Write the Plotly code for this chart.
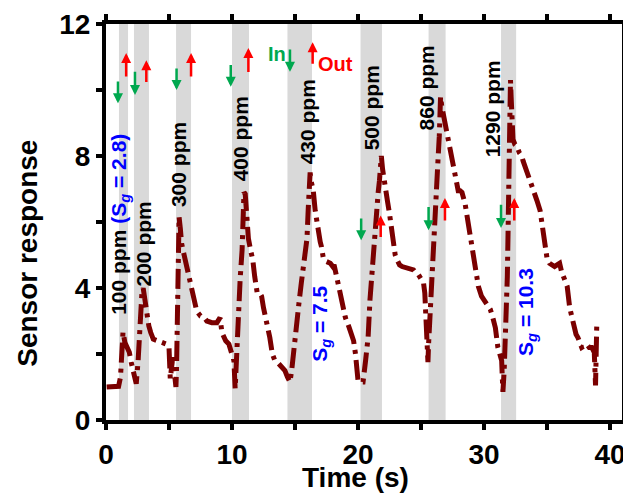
import plotly.graph_objects as go

# ---- data ----
time_s = [0.05, 0.6, 1.0, 1.15, 1.25, 1.35, 1.5, 1.65, 1.85, 2.0, 2.15, 2.3, 2.4,
          2.55, 2.65, 2.75, 2.85, 2.95, 3.1, 3.25, 3.4, 3.55, 3.75, 4.1, 4.5, 4.8, 5.0, 5.1, 5.3, 5.45, 5.55,
          5.6, 5.65, 5.7, 5.75, 5.8, 5.9, 6.0, 6.2, 6.35, 6.6, 6.8, 7.0, 7.2, 7.5, 7.8, 8.0, 8.4, 8.8, 9.05,
          9.2, 9.5, 9.75, 9.9, 10.05, 10.15, 10.25,
          10.35, 10.5, 10.65, 10.8, 10.9, 10.95, 11.05, 11.1, 11.2, 11.3, 11.5, 11.65, 11.8, 12.0, 12.2,
          12.35, 12.5, 12.75, 13.0, 13.2, 13.4, 13.6, 13.8, 14.0, 14.2, 14.4, 14.5, 14.6, 14.75,
          14.9, 15.15, 15.3, 15.5, 15.7, 15.95, 16.05, 16.1, 16.2, 16.3, 16.45, 16.6, 16.85, 17.0, 17.1,
          17.25, 17.5, 17.8, 18.0, 18.1, 18.3, 18.45, 18.6, 18.8, 19.0, 19.3, 19.5, 19.65, 19.8, 19.9,
          20.0, 20.15, 20.4,
          20.6, 20.8, 20.95, 21.1, 21.2, 21.35, 21.5, 21.6, 21.7, 21.8, 21.85, 21.95, 22.05, 22.2, 22.35,
          22.5, 22.65, 22.8, 22.95, 23.1, 23.3, 23.5, 23.9, 24.2, 24.4, 24.5, 24.8, 25.05, 25.2, 25.3,
          25.35, 25.45, 25.5, 25.55,
          25.6, 25.7, 25.85, 25.95, 26.1, 26.2, 26.35, 26.45, 26.5, 26.55, 26.65, 26.75, 26.9, 27.05,
          27.2, 27.3, 27.45, 27.55, 27.7, 27.95, 28.1, 28.25, 28.5, 28.75, 29.05, 29.3, 29.55, 29.8,
          30.1, 30.5, 30.7, 30.9, 31.1, 31.25, 31.4, 31.45, 31.5,
          31.6, 31.7, 31.8, 31.85, 31.9, 31.95, 32.0, 32.05, 32.1, 32.15, 32.2, 32.3, 32.45, 32.6, 32.8,
          33.0, 33.1, 33.25, 33.5, 33.7, 33.9, 34.2, 34.45, 34.6, 34.7, 34.85, 35.0, 35.2, 35.4, 35.6,
          35.8, 36.0, 36.15, 36.3, 36.6, 36.8, 37.1, 37.3, 37.45, 37.75, 37.95, 38.15, 38.35, 38.55,
          38.75, 38.8, 38.85, 38.9, 38.95]
response = [1.0, 1.0, 1.02, 1.3, 2.0, 2.67, 2.35, 2.2, 2.05, 1.75, 1.5, 1.25, 1.1,
            1.8, 2.6, 3.2, 3.85, 4.0, 3.6, 3.1, 2.85, 2.65, 2.45, 2.4, 2.35, 2.3, 2.2, 1.25, 1.9, 1.1, 1.0,
            1.6, 3.0, 4.5, 5.6, 6.15, 5.8, 5.35, 5.0, 4.75, 4.25, 4.05, 3.6, 3.3, 3.15, 3.1, 3.0, 2.95, 2.95, 3.1,
            2.65, 2.4, 2.3, 2.05, 1.85, 1.8, 0.95,
            2.0, 3.2, 4.3, 5.15, 6.3, 6.9, 6.85, 6.5, 6.35, 5.5, 5.1, 4.85, 4.35, 3.85, 3.85,
            3.75, 3.4, 3.0, 2.5, 2.0, 1.8, 1.75, 1.65, 1.6, 1.5, 1.3, 1.15, 1.15, 1.55,
            2.0, 2.9, 3.5, 4.15, 4.8, 5.5, 6.4, 6.9, 7.5, 7.2, 6.95, 6.35, 5.65, 5.4, 5.25,
            4.9, 4.8, 4.75, 4.65, 4.7, 4.35, 4.1, 3.85, 3.5, 3.1, 2.8, 2.6, 2.4, 2.0, 1.6,
            1.2, 1.15, 1.15,
            1.8, 2.5, 3.65, 4.5, 5.15, 5.8, 6.45, 6.9, 7.25, 7.9, 8.0, 7.6, 7.4, 7.0, 6.6,
            6.25, 5.8, 5.45, 5.0, 4.85, 4.7, 4.65, 4.6, 4.6, 4.55, 4.5, 4.4, 4.25, 4.15, 3.85,
            3.25, 2.6, 2.0, 1.75,
            2.3, 3.1, 4.35, 5.45, 6.2, 6.85, 7.9, 8.6, 9.1, 9.8, 9.5, 9.3, 9.0, 8.7,
            8.45, 8.2, 8.0, 7.9, 7.5, 6.95, 6.95, 6.9, 6.55, 5.95, 5.25, 4.65, 4.05, 3.75,
            3.6, 3.35, 3.1, 2.8, 2.2, 2.0, 1.8, 1.3, 0.85,
            1.5, 2.5, 3.1, 4.35, 5.5, 7.05, 8.5, 9.9, 10.3, 9.8, 9.3, 8.5, 8.35, 8.3, 8.1,
            8.0, 7.85, 7.7, 7.35, 7.2, 7.05, 6.65, 6.35, 5.95, 5.55, 5.05, 4.9, 4.75, 4.7, 4.65,
            4.7, 4.75, 4.5, 4.35, 4.05, 3.4, 2.8, 2.6, 2.5, 2.2, 2.25, 2.3, 2.2, 2.2,
            2.05, 1.5, 1.05, 2.0, 2.95]

# gas exposure windows (s)
band_start = [1.03, 2.22, 5.56, 10.0, 14.4, 20.2, 25.6, 31.35]
band_end = [1.75, 3.41, 6.75, 11.35, 16.35, 21.9, 26.95, 32.55]

# concentration labels
conc_labels = ["100 ppm <span style='color:#0000FF'>(S<sub><i>g</i></sub> = 2.8)</span>",
               "200 ppm", "300 ppm", "400 ppm", "430 ppm", "500 ppm", "860 ppm", "1290 ppm"]
conc_x = [1.1, 2.94, 5.7, 10.7, 15.95, 21.1, 25.4, 30.7]
conc_y = [5.94, 5.32, 7.75, 8.53, 9.05, 9.47, 10.05, 9.44]

sg_labels = ["S<sub><i>g</i></sub> = 7.5", "S<sub><i>g</i></sub> = 10.3"]
sg_x = [17.0, 33.4]
sg_y = [2.92, 3.27]

# gas in (down, green) arrows: x, tail y, head y
in_x = [0.95, 2.3, 5.6, 9.9, 14.6, 20.25, 25.6, 31.35]
in_tail = [10.3, 10.6, 10.7, 10.8, 11.27, 6.15, 6.5, 6.57]
in_head = [9.6, 9.85, 10.0, 10.1, 10.55, 5.45, 5.75, 5.82]
# gas out (up, red) arrows
out_x = [1.6, 3.2, 6.75, 11.3, 16.4, 21.8, 26.9, 32.4]
out_tail = [10.36, 10.2, 10.36, 10.5, 10.75, 5.5, 6.0, 6.0]
out_head = [11.12, 10.9, 11.12, 11.27, 11.45, 6.2, 6.73, 6.73]

FONT = "Liberation Sans, Arial, sans-serif"
GREEN = "#00A84F"
RED = "#FF0000"
BLUE = "#0000FF"

fig = go.Figure()
fig.add_trace(go.Scatter(x=time_s, y=response, mode="lines",
                         line=dict(color="#7A0000", width=5, dash="20px,6px,4px,6px"),
                         showlegend=False, hoverinfo="skip"))

shapes = []
for a, b in zip(band_start, band_end):
    shapes.append(dict(type="rect", xref="x", yref="y", x0=a, x1=b, y0=0, y1=12,
                       fillcolor="#D9D9D9", line=dict(width=0), layer="below"))

ann = []
for t, x, y in zip(conc_labels, conc_x, conc_y):
    ann.append(dict(x=x, y=y, xref="x", yref="y", text="<b>" + t + "</b>", showarrow=False,
                    textangle=-90, xanchor="center", yanchor="middle",
                    font=dict(family=FONT, size=21, color="black")))
for t, x, y in zip(sg_labels, sg_x, sg_y):
    ann.append(dict(x=x, y=y, xref="x", yref="y", text="<b>" + t + "</b>", showarrow=False,
                    textangle=-90, xanchor="center", yanchor="middle",
                    font=dict(family=FONT, size=21, color=BLUE)))
for x, t, h in zip(in_x, in_tail, in_head):
    ann.append(dict(x=x, y=h, ax=x, ay=t, xref="x", yref="y", axref="x", ayref="y", text="",
                    showarrow=True, arrowhead=2, arrowsize=0.8, arrowwidth=2.5, arrowcolor=GREEN))
for x, t, h in zip(out_x, out_tail, out_head):
    ann.append(dict(x=x, y=h, ax=x, ay=t, xref="x", yref="y", axref="x", ayref="y", text="",
                    showarrow=True, arrowhead=2, arrowsize=0.8, arrowwidth=2.5, arrowcolor=RED))
ann.append(dict(x=13.6, y=11.1, xref="x", yref="y", text="<b>In</b>", showarrow=False,
                font=dict(family=FONT, size=20, color=GREEN)))
ann.append(dict(x=18.2, y=10.8, xref="x", yref="y", text="<b>Out</b>", showarrow=False,
                font=dict(family=FONT, size=20, color=RED)))
# axis titles
ann.append(dict(x=-0.151, y=0.42, xref="paper", yref="paper", text="<b>Sensor response</b>",
                showarrow=False, textangle=-90, xanchor="center", yanchor="middle",
                font=dict(family=FONT, size=28, color="black")))
ann.append(dict(x=0.483, y=-0.145, xref="paper", yref="paper", text="<b>Time (s)</b>",
                showarrow=False, xanchor="center", yanchor="middle",
                font=dict(family=FONT, size=28, color="black")))

axis_common = dict(showline=True, linewidth=4, linecolor="black", mirror="allticks",
                   ticks="outside", ticklen=6, tickwidth=4, tickcolor="black",
                   showgrid=False, zeroline=False, automargin=False,
                   tickfont=dict(family=FONT, size=28, color="black"))

# page body has an 8px margin, so the figure is sized and placed to compensate
fig.update_layout(
    width=623, height=493,
    margin=dict(l=98, r=9, t=16, b=81, autoexpand=False),
    plot_bgcolor="white", paper_bgcolor="white",
    shapes=shapes, annotations=ann,
    xaxis=dict(range=[0, 40.95], tickvals=[0, 10, 20, 30, 40],
               ticktext=["<b>0</b>", "<b>10</b>", "<b>20</b>", "<b>30</b>", "<b>40</b>"],
               minor=dict(tickvals=[5, 15, 25, 35], ticks="outside", ticklen=6, tickwidth=4,
                          tickcolor="black"),
               **axis_common),
    yaxis=dict(range=[0, 12], tickvals=[0, 4, 8, 12],
               ticktext=["<b>0</b>", "<b>4</b>", "<b>8</b>", "<b>12</b>"],
               minor=dict(tickvals=[2, 6, 10], ticks="outside", ticklen=6, tickwidth=4,
                          tickcolor="black"),
               **axis_common),
)

fig.write_html("out.html")
